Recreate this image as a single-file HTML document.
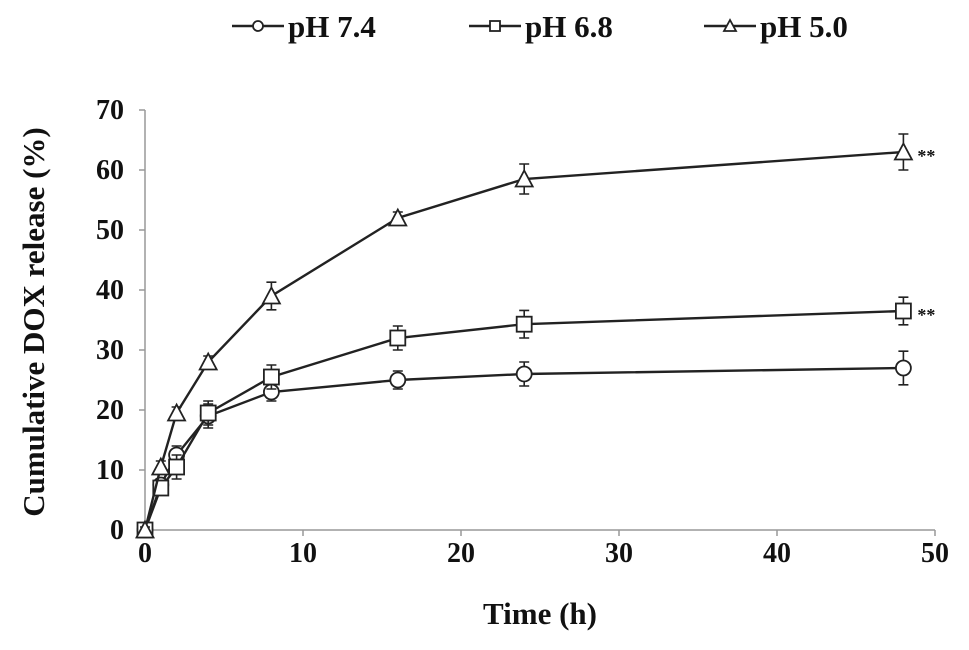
<!DOCTYPE html>
<html><head><meta charset="utf-8"><style>
html,body{margin:0;padding:0;background:#fff;width:969px;height:650px;overflow:hidden}
text{font-family:"Liberation Serif",serif;font-weight:bold;fill:#111}
</style></head><body>
<svg id="chart" width="969" height="650">
<g id="legend"></g>
<g id="axes"></g>
<g id="series"></g>
<text x="540" y="624" text-anchor="middle" font-size="31">Time (h)</text>
<text transform="translate(44,322) rotate(-90)" text-anchor="middle" font-size="31">Cumulative DOX release (%)</text>
</svg>
<script>
const times=[0,1,2,4,8,16,24,48];
const ph74=[0,7.5,12.5,19,23,25,26,27];
const ph68=[0,7,10.5,19.5,25.5,32,34.3,36.5];
const ph50=[0,10.5,19.5,28,39,52,58.5,63];
const err74=[0.5,1,1.5,2,1.5,1.5,2,2.8];
const err68=[0.5,1,2,2,2,2,2.3,2.3];
const err50=[0.5,1,1,1,2.3,1,2.5,3];
const xTicks=[0,10,20,30,40,50];
const yTicks=[0,10,20,30,40,50,60,70];
const seriesNames=["pH 7.4","pH 6.8","pH 5.0"];
const NS="http://www.w3.org/2000/svg";
const X=v=>145+v*15.8, Y=v=>530-v*6;
function mk(tag,attrs,parent){const e=document.createElementNS(NS,tag);for(const k in attrs)e.setAttribute(k,attrs[k]);parent.appendChild(e);return e;}
const axes=document.getElementById('axes');
let l=mk('line',{x1:X(0),y1:Y(0),x2:X(50),y2:Y(0),stroke:'#999','stroke-width':1.5},axes);


l=mk('line',{x1:X(0),y1:Y(0),x2:X(0),y2:Y(70),stroke:'#999','stroke-width':1.5},axes);


xTicks.forEach(t=>{
  mk('line',{x1:X(t),y1:Y(0),x2:X(t),y2:Y(0)+6,stroke:'#999','stroke-width':1.5},axes);
  const tx=mk('text',{x:X(t),y:562,'text-anchor':'middle','font-size':28},axes);
  tx.textContent=t;
  
  
});
yTicks.forEach(t=>{
  mk('line',{x1:X(0)-6,y1:Y(t),x2:X(0),y2:Y(t),stroke:'#999','stroke-width':1.5},axes);
  const tx=mk('text',{x:124,y:Y(t)+9,'text-anchor':'end','font-size':28},axes);
  tx.textContent=t;
  
  
});
function marker(type,cx,cy,p,s){
  if(type==='c')return mk('circle',{cx,cy,r:s,fill:'#fff',stroke:'#222','stroke-width':1.8},p);
  if(type==='s')return mk('rect',{x:cx-s,y:cy-s,width:2*s,height:2*s,fill:'#fff',stroke:'#222','stroke-width':1.8},p);
  return mk('polygon',{points:`${cx},${cy-s-1} ${cx-s-1},${cy+s} ${cx+s+1},${cy+s}`,fill:'#fff',stroke:'#222','stroke-width':1.8},p);
}
const sg=document.getElementById('series');
[[ph74,err74,'c','series-ph74'],[ph68,err68,'s','series-ph68'],[ph50,err50,'t','series-ph50']].forEach(([vals,errs,type,name])=>{
  const g=mk('g',{},sg);
  
  
  mk('polyline',{points:times.map((t,i)=>X(t)+','+Y(vals[i])).join(' '),fill:'none',stroke:'#222','stroke-width':2.4},g);
  times.forEach((t,i)=>{
    const x=X(t),y1=Y(vals[i]-errs[i]),y2=Y(vals[i]+errs[i]);
    mk('path',{d:`M${x},${y1}V${y2}M${x-5},${y1}H${x+5}M${x-5},${y2}H${x+5}`,stroke:'#222','stroke-width':1.6,fill:'none'},g);
    const m=marker(type,x,Y(vals[i]),g,7.5);
    
    
  });
});
[[ph68,'sig-ph68'],[ph50,'sig-ph50']].forEach(([v,n])=>{
  const t=mk('text',{x:X(48)+14,y:Y(v[v.length-1])+10,'font-size':18},sg);
  t.textContent='**';
  
  
});
const lg=document.getElementById('legend');
const lx=[232,469,704],types=['c','s','t'];
seriesNames.forEach((n,i)=>{
  const g=mk('g',{},lg);
  
  
  mk('line',{x1:lx[i],y1:26,x2:lx[i]+52,y2:26,stroke:'#222','stroke-width':2.4},g);
  marker(types[i],lx[i]+26,26,g,5);
  const t=mk('text',{x:lx[i]+56,y:37,'font-size':31},g);
  t.textContent=n;
});
</script>
</body></html>
